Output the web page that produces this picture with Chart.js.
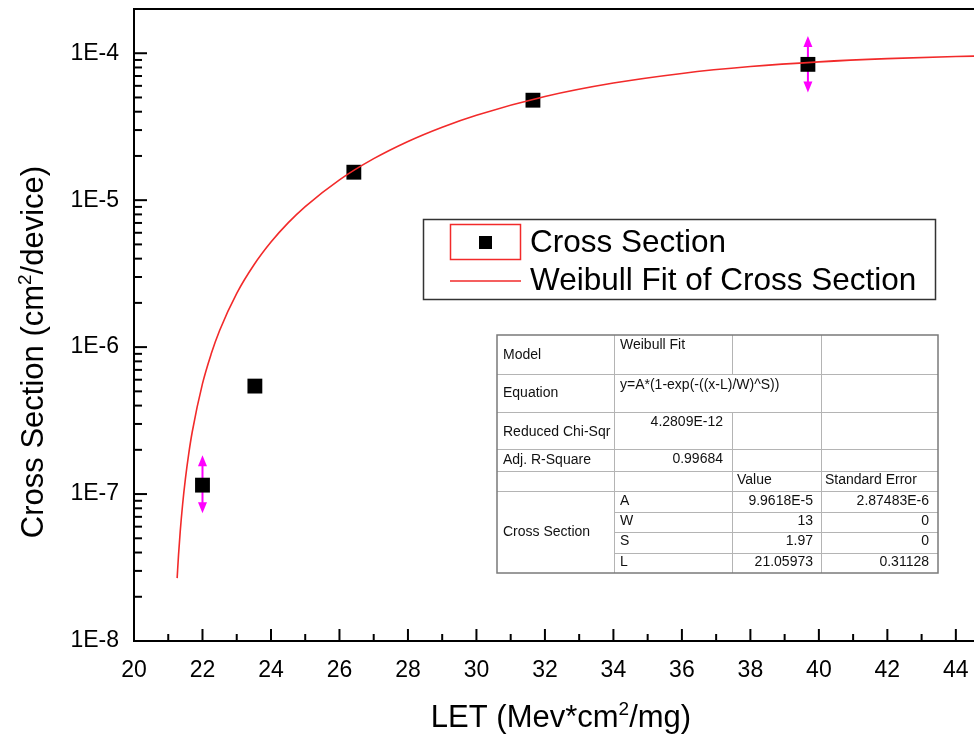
<!DOCTYPE html>
<html><head><meta charset="utf-8">
<script src="https://cdn.jsdelivr.net/npm/chart.js@4.4.0/dist/chart.umd.min.js"></script>
<style>html,body{margin:0;padding:0;background:#fff;overflow:hidden}canvas{display:block}</style>
</head><body>
<canvas id="c" width="974" height="736"></canvas>
<script>
// ---- data ----
const letValues    = [22.0, 23.53, 26.42, 31.65, 39.68];
const crossSection = [1.15e-7, 5.43e-7, 1.55e-5, 4.79e-5, 8.4e-5];
const errLow       = [7.4e-8, null, null, null, 5.4e-5];
const errHigh      = [1.84e-7, null, null, null, 1.31e-4];
const fitLET   = [21.26, 21.3, 21.35, 21.42, 21.5, 21.6, 21.7, 22.0, 22.25, 22.5, 23.0, 23.5, 24.0, 24.5, 25, 26, 27, 28, 29, 30, 32, 34, 36, 38, 40, 42, 44, 45];
const fitCross = [2.68e-8, 3.84e-8, 5.57e-8, 8.53e-8, 1.265e-7, 1.893e-7, 2.645e-7, 5.64e-7, 8.93e-7, 1.298e-6, 2.322e-6, 3.622e-6, 5.187e-6, 7.004e-6, 9.047e-6, 1.376e-5, 1.917e-5, 2.511e-5, 3.140e-5, 3.787e-5, 5.074e-5, 6.264e-5, 7.288e-5, 8.114e-5, 8.740e-5, 9.190e-5, 9.495e-5, 9.605e-5];
const xTicks = [20, 22, 24, 26, 28, 30, 32, 34, 36, 38, 40, 42, 44];
const yTicks = [1e-8, 1e-7, 1e-6, 1e-5, 1e-4];
const yTickLabels = ['1E-8', '1E-7', '1E-6', '1E-5', '1E-4'];
const seriesNames = ['Cross Section', 'Weibull Fit of Cross Section'];
const xTitle = ['LET (Mev*cm', '2', '/mg)'];
const yTitle = ['Cross Section (cm', '2', '/device)'];
const tableLeftLabels = ['Model', 'Equation', 'Reduced Chi-Sqr', 'Adj. R-Square', 'Cross Section'];
const tableModel = 'Weibull Fit';
const tableEquation = 'y=A*(1-exp(-((x-L)/W)^S))';
const tableChi = '4.2809E-12';
const tableR2 = '0.99684';
const tableHeaders = ['Value', 'Standard Error'];
const fitParams = ['A', 'W', 'S', 'L'];
const fitValues = ['9.9618E-5', '13', '1.97', '21.05973'];
const fitErrors = ['2.87483E-6', '0', '0', '0.31128'];

const FONT = "'Liberation Sans', Arial, sans-serif";
const RED = '#f22a2a';
const MAGENTA = '#ff00ff';

function drawSupText(ctx, parts, size, x, y, align) {
  ctx.font = size + 'px ' + FONT;
  const w0 = ctx.measureText(parts[0]).width;
  ctx.font = Math.round(size * 0.62) + 'px ' + FONT;
  const w1 = ctx.measureText(parts[1]).width;
  ctx.font = size + 'px ' + FONT;
  const w2 = ctx.measureText(parts[2]).width;
  let sx = align === 'center' ? x - (w0 + w1 + w2) / 2 : x;
  ctx.textAlign = 'left';
  ctx.textBaseline = 'alphabetic';
  ctx.fillText(parts[0], sx, y);
  ctx.font = Math.round(size * 0.62) + 'px ' + FONT;
  ctx.fillText(parts[1], sx + w0, y - size * 0.38);
  ctx.font = size + 'px ' + FONT;
  ctx.fillText(parts[2], sx + w0 + w1, y);
}

const decorPlugin = {
  id: 'decor',
  beforeDatasetsDraw(chart) {
    const ctx = chart.ctx, xs = chart.scales.x, ys = chart.scales.y;
    ctx.save();
    ctx.strokeStyle = MAGENTA; ctx.fillStyle = MAGENTA; ctx.lineWidth = 2;
    letValues.forEach((v, i) => {
      if (errLow[i] == null) return;
      const x = xs.getPixelForValue(v);
      const yc = ys.getPixelForValue(crossSection[i]);
      [errHigh[i], errLow[i]].forEach(e => {
        const ye = ys.getPixelForValue(e);
        const dir = ye < yc ? 1 : -1;
        ctx.beginPath(); ctx.moveTo(x, yc); ctx.lineTo(x, ye + dir * 8); ctx.stroke();
        ctx.beginPath(); ctx.moveTo(x, ye); ctx.lineTo(x - 4.5, ye + dir * 11); ctx.lineTo(x + 4.5, ye + dir * 11); ctx.closePath(); ctx.fill();
      });
    });
    ctx.restore();
  },
  afterDraw(chart) {
    const ctx = chart.ctx, xs = chart.scales.x, ys = chart.scales.y, ca = chart.chartArea;
    ctx.save();
    // top frame line
    ctx.strokeStyle = '#000'; ctx.lineWidth = 2;
    ctx.beginPath(); ctx.moveTo(ca.left - 1, ca.top); ctx.lineTo(ca.right + 2, ca.top); ctx.stroke();
    // inward ticks, x
    ctx.lineWidth = 2;
    xTicks.forEach((v, i) => {
      const px = xs.getPixelForValue(v);
      ctx.beginPath(); ctx.moveTo(px, ca.bottom); ctx.lineTo(px, ca.bottom - 12); ctx.stroke();
      const m = (v + (xTicks[i + 1] !== undefined ? xTicks[i + 1] : v + 2)) / 2;
      if (m <= xs.max) {
        const pm = xs.getPixelForValue(m);
        ctx.beginPath(); ctx.moveTo(pm, ca.bottom); ctx.lineTo(pm, ca.bottom - 7); ctx.stroke();
      }
    });
    // inward ticks, y (log)
    yTicks.forEach(v => {
      const py = ys.getPixelForValue(v);
      ctx.beginPath(); ctx.moveTo(ca.left, py); ctx.lineTo(ca.left + 13, py); ctx.stroke();
      for (let k = 2; k <= 9; k++) {
        const mv = v * k;
        if (mv > ys.max) break;
        const pm = ys.getPixelForValue(mv);
        ctx.beginPath(); ctx.moveTo(ca.left, pm); ctx.lineTo(ca.left + 8, pm); ctx.stroke();
      }
    });
    // axis titles
    ctx.fillStyle = '#000';
    drawSupText(ctx, xTitle, 31, 561, 727, 'center');
    ctx.save();
    ctx.translate(43, 352); ctx.rotate(-Math.PI / 2);
    drawSupText(ctx, yTitle, 31, 0, 0, 'center');
    ctx.restore();

    // legend
    ctx.lineWidth = 1.5; ctx.strokeStyle = '#333';
    ctx.strokeRect(423.5, 219.5, 512, 80);
    ctx.strokeStyle = RED; ctx.lineWidth = 1.5;
    ctx.strokeRect(450.5, 224.5, 70, 35);
    ctx.fillStyle = '#000'; ctx.fillRect(479, 236, 13, 13);
    ctx.beginPath(); ctx.moveTo(450, 281); ctx.lineTo(521, 281); ctx.stroke();
    ctx.fillStyle = '#000'; ctx.font = '31.5px ' + FONT; ctx.textAlign = 'left'; ctx.textBaseline = 'alphabetic';
    ctx.fillText(seriesNames[0], 530, 252);
    ctx.fillText(seriesNames[1], 530, 290);

    // results table
    const cx = [497, 614, 732, 821, 938];
    const ry = [335, 374, 412, 449, 471, 491, 512, 532, 553, 573];
    ctx.fillStyle = '#fff'; ctx.fillRect(cx[0], ry[0], cx[4] - cx[0], ry[9] - ry[0]);
    ctx.strokeStyle = '#b4b4b4'; ctx.lineWidth = 1;
    const hl = (y, x0, x1) => { ctx.beginPath(); ctx.moveTo(x0, y + 0.5); ctx.lineTo(x1, y + 0.5); ctx.stroke(); };
    const vl = (x, y0, y1) => { ctx.beginPath(); ctx.moveTo(x + 0.5, y0); ctx.lineTo(x + 0.5, y1); ctx.stroke(); };
    [1, 2, 3, 4, 5].forEach(i => hl(ry[i], cx[0], cx[4]));
    [6, 7, 8].forEach(i => hl(ry[i], cx[1], cx[4]));
    vl(cx[1], ry[0], ry[9]); vl(cx[3], ry[0], ry[9]);
    vl(cx[2], ry[0], ry[1]); vl(cx[2], ry[2], ry[9]);
    ctx.strokeStyle = '#7a7a7a'; ctx.lineWidth = 1.5;
    ctx.strokeRect(cx[0], ry[0], cx[4] - cx[0], ry[9] - ry[0]);
    ctx.fillStyle = '#111'; ctx.font = '14px ' + FONT; ctx.textBaseline = 'middle';
    const t = (s, x, y, a) => { ctx.textAlign = a || 'left'; ctx.fillText(s, x, y); };
    t(tableLeftLabels[0], 503, 355);
    t(tableLeftLabels[1], 503, 393);
    t(tableLeftLabels[2], 503, 432);
    t(tableLeftLabels[3], 503, 460);
    t(tableLeftLabels[4], 503, 532);
    t(tableModel, 620, 345);
    t(tableEquation, 620, 385);
    t(tableChi, 723, 422, 'right');
    t(tableR2, 723, 459, 'right');
    t(tableHeaders[0], 737, 480);
    t(tableHeaders[1], 825, 480);
    const pY = [501, 521, 541, 562];
    fitParams.forEach((p, i) => {
      t(p, 620, pY[i]);
      t(fitValues[i], 813, pY[i], 'right');
      t(fitErrors[i], 929, pY[i], 'right');
    });
    ctx.restore();
  }
};

const noPad = s => { s.paddingTop = 0; s.paddingBottom = 0; s.paddingLeft = 0; s.paddingRight = 0; };

new Chart(document.getElementById('c'), {
  type: 'scatter',
  data: {
    datasets: [
      {
        label: seriesNames[1],
        type: 'line',
        data: fitLET.map((x, i) => ({ x, y: fitCross[i] })),
        borderColor: RED, borderWidth: 1.6, pointRadius: 0, fill: false,
        cubicInterpolationMode: 'monotone', order: 1
      },
      {
        label: seriesNames[0],
        data: letValues.map((x, i) => ({ x, y: crossSection[i] })),
        pointStyle: 'rect', pointRadius: 10.5, backgroundColor: '#000', borderColor: '#000', borderWidth: 0,
        order: 2
      }
    ]
  },
  options: {
    responsive: false, animation: false, clip: true,
    layout: { autoPadding: false, padding: { top: 9, right: 0, left: 0, bottom: 0 } },
    plugins: { legend: { display: false }, tooltip: { enabled: false } },
    scales: {
      x: {
        type: 'linear', min: 20, max: 44.53,
        afterBuildTicks: s => { s.ticks = xTicks.map(v => ({ value: v })); },
        afterFit: s => { s.height = 95; noPad(s); },
        grid: { display: false, drawTicks: false },
        border: { display: true, color: '#000', width: 2 },
        ticks: { font: { family: FONT, size: 23 }, color: '#000', padding: 16, maxRotation: 0, autoSkip: false }
      },
      y: {
        type: 'logarithmic', min: 1e-8, max: 2e-4,
        afterBuildTicks: s => { s.ticks = yTicks.map(v => ({ value: v })); },
        afterFit: s => { s.width = 134; noPad(s); },
        grid: { display: false, drawTicks: false },
        border: { display: true, color: '#000', width: 2 },
        ticks: { font: { family: FONT, size: 23 }, color: '#000', padding: 15, autoSkip: false,
          callback: (v) => { const i = yTicks.findIndex(t => Math.abs(t - v) / t < 1e-6); return i >= 0 ? yTickLabels[i] : ''; } }
      }
    }
  },
  plugins: [decorPlugin]
});
</script>
</body></html>
